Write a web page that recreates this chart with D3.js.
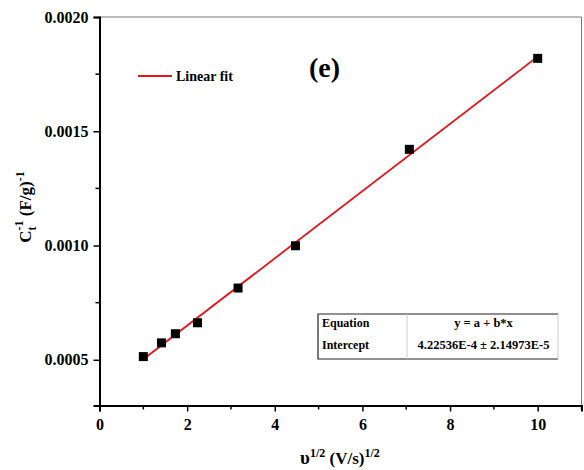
<!DOCTYPE html>
<html>
  <head>
    <meta charset="utf-8">
    <title>Ct-1 vs sqrt scan rate</title>
    <script src="https://d3js.org/d3.v7.min.js"></script>
    <style>
      body { margin: 0; background: #fff; }
      svg text { font-family: "Liberation Serif", "Times New Roman", "DejaVu Serif", serif !important; font-weight: bold; }
    </style>
  </head>
  <body>
    <svg></svg>
    <script>
      // sqrt of scan rate and inverse capacitance
      var sqrtRate = [1, 1.414, 1.732, 2.236, 3.162, 4.472, 7.071, 10];
      var invCap = [0.000514, 0.000574, 0.000614, 0.000662, 0.000814, 0.000999, 0.001421, 0.001819];
      var xTicks = [0, 2, 4, 6, 8, 10];
      var yTicks = [0.0005, 0.0010, 0.0015, 0.0020];
      var tableRows = [["Equation", "y = a + b*x"], ["Intercept", "4.22536E-4 \u00b1 2.14973E-5"]];

      var width = 584, height = 470;
      var pLeft = 99.5, pRight = 581.5, pTop = 17, pBottom = 405.5;

      var svg = d3.select('svg').attr('width', width).attr('height', height);

      var x = d3.scaleLinear().domain([0, 11]).range([pLeft, pRight]);
      var y = d3.scaleLinear().domain([0.0003, 0.0020]).range([pBottom, pTop]);

      // frame top/right
      svg.append('path')
        .attr('d', 'M' + pLeft + ',' + pTop + 'H' + pRight + 'V' + pBottom)
        .attr('fill', 'none').attr('stroke', '#777').attr('stroke-width', 1);

      // minor ticks
      var xMinor = d3.range(1, 12, 2);
      var yMinor = [0.00075, 0.00125, 0.00175];

      var xAxis = svg.append('g').attr('transform', 'translate(0,' + pBottom + ')')
        .call(d3.axisBottom(x).tickValues(xTicks).tickFormat(d3.format('d')).tickSizeOuter(0).tickSize(6).tickPadding(7));
      xAxis.selectAll('.minor').data(xMinor).enter().append('line')
        .attr('x1', function (d) { return x(d); }).attr('x2', function (d) { return x(d); })
        .attr('y2', 4).attr('stroke', '#000').attr('stroke-width', 1.5);

      var yAxis = svg.append('g').attr('transform', 'translate(' + pLeft + ',0)')
        .call(d3.axisLeft(y).tickValues(yTicks).tickFormat(d3.format('.4f')).tickSizeOuter(0).tickSize(6).tickPadding(5));
      yAxis.selectAll('.minor').data(yMinor).enter().append('line')
        .attr('y1', function (d) { return y(d); }).attr('y2', function (d) { return y(d); })
        .attr('x2', -4).attr('stroke', '#000').attr('stroke-width', 1.5);

      svg.selectAll('.domain').attr('stroke-width', 2);
      svg.selectAll('.tick line').attr('stroke-width', 1.5);
      svg.selectAll('.tick text').attr('font-size', 16).attr('fill', '#000');

      // least squares fit
      var mx = d3.mean(sqrtRate), my = d3.mean(invCap);
      var sxy = d3.sum(sqrtRate, function (v, i) { return (v - mx) * (invCap[i] - my); });
      var sxx = d3.sum(sqrtRate, function (v) { return (v - mx) * (v - mx); });
      var slope = sxy / sxx, icpt = my - slope * mx;
      var ends = d3.extent(sqrtRate);

      svg.append('line')
        .attr('x1', x(ends[0])).attr('y1', y(icpt + slope * ends[0]))
        .attr('x2', x(ends[1])).attr('y2', y(icpt + slope * ends[1]))
        .attr('stroke', '#e8141a').attr('stroke-width', 1.8);

      svg.selectAll('.pt').data(sqrtRate).enter().append('rect')
        .attr('x', function (d) { return x(d) - 4.5; })
        .attr('y', function (d, i) { return y(invCap[i]) - 4.5; })
        .attr('width', 9).attr('height', 9).attr('fill', '#000');

      // legend
      svg.append('line').attr('x1', 138).attr('x2', 172).attr('y1', 76).attr('y2', 76)
        .attr('stroke', '#e8141a').attr('stroke-width', 1.8);
      svg.append('text').attr('x', 176).attr('y', 80.5).attr('font-size', 14).text('Linear fit');

      svg.append('text').attr('x', 309).attr('y', 77).attr('font-size', 28).text('(e)');

      // table
      var tx0 = 318, tx1 = 407, tx2 = 558, ty0 = 314, ty1 = 359;
      var tb = svg.append('g');
      tb.append('path').attr('d', 'M' + tx2 + ',' + ty0 + 'H' + tx0 + 'V' + ty1 + 'H' + tx2)
        .attr('fill', 'none').attr('stroke', '#222').attr('stroke-width', 1.2);
      tb.append('line').attr('x1', tx1).attr('x2', tx1).attr('y1', ty0).attr('y2', ty1)
        .attr('stroke', '#ccc').attr('stroke-width', 1);
      tb.append('line').attr('x1', tx2).attr('x2', tx2).attr('y1', ty0).attr('y2', ty1)
        .attr('stroke', '#ccc').attr('stroke-width', 1);
      tableRows.forEach(function (row, i) {
        var yy = ty0 + 13 + i * 22;
        tb.append('text').attr('x', tx0 + 4).attr('y', yy).attr('font-size', 12).text(row[0]);
        tb.append('text').attr('x', (tx1 + tx2) / 2 + 1).attr('y', yy).attr('font-size', 12.5)
          .attr('text-anchor', 'middle').text(row[1]);
      });

      // x label
      var xl = svg.append('text').attr('x', 340).attr('y', 464).attr('text-anchor', 'middle').attr('font-size', 17);
      xl.append('tspan').attr('font-size', 19).text('\u03c5');
      xl.append('tspan').attr('font-size', 12).attr('dy', -7).text('1/2');
      xl.append('tspan').attr('dy', 7).text(' (V/s)');
      xl.append('tspan').attr('font-size', 12).attr('dy', -7).text('1/2');

      // y label
      var yl = svg.append('text').attr('transform', 'translate(31,207) rotate(-90)')
        .attr('text-anchor', 'middle').attr('font-size', 17);
      yl.append('tspan').text('C');
      yl.append('tspan').attr('font-size', 12).attr('dy', 5).text('t');
      yl.append('tspan').attr('font-size', 12).attr('dx', -4).attr('dy', -13).text('-1');
      yl.append('tspan').attr('dy', 8).text(' (F/g)');
      yl.append('tspan').attr('font-size', 12).attr('dy', -7).text('-1');
    </script>
  </body>
</html>
